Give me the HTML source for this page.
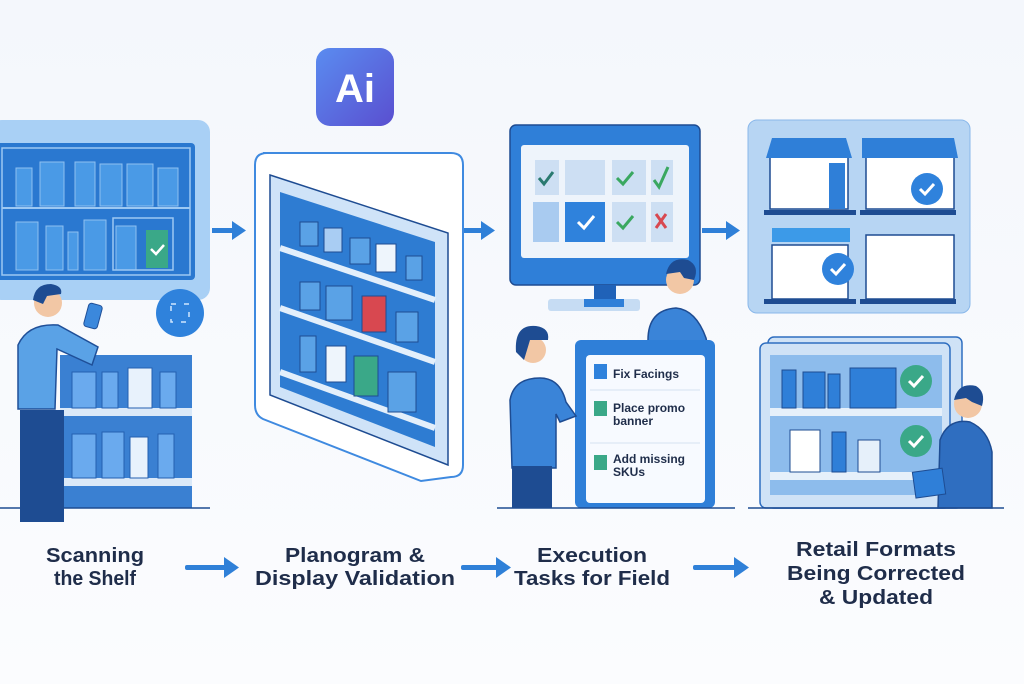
<!DOCTYPE html>
<html><head><meta charset="utf-8"><style>
html,body{margin:0;padding:0;background:#f7f9fd;}
svg{display:block;}
text{font-family:"Liberation Sans",sans-serif;font-weight:bold;}
</style></head><body>
<svg width="1024" height="684" viewBox="0 0 1024 684" xmlns="http://www.w3.org/2000/svg">
<defs>
<linearGradient id="ai" x1="0" y1="0" x2="1" y2="1"><stop offset="0" stop-color="#5a8cf0"/><stop offset="1" stop-color="#5a4fd0"/></linearGradient>
<linearGradient id="bg" x1="0" y1="0" x2="0" y2="1"><stop offset="0" stop-color="#f4f7fc"/><stop offset="1" stop-color="#fbfcfe"/></linearGradient>
</defs>
<rect width="1024" height="684" fill="url(#bg)"/>

<!-- AI icon -->
<rect x="316" y="48" width="78" height="78" rx="14" fill="url(#ai)"/>
<text x="355" y="102" font-size="40" fill="#fff" text-anchor="middle" font-weight="normal">Ai</text>

<!-- Panel 1 -->
<rect x="-10" y="120" width="220" height="180" rx="12" fill="#a9d0f5"/>
<rect x="-4" y="143" width="199" height="137" rx="4" fill="#2a78d0"/>
<rect x="2" y="148" width="188" height="127" fill="none" stroke="#9cc8f3" stroke-width="1.5"/>
<line x1="2" y1="208" x2="190" y2="208" stroke="#9cc8f3" stroke-width="2"/>
<g fill="#4a9ae6" stroke="#8fc0f0" stroke-width="1">
<rect x="16" y="168" width="16" height="38"/><rect x="40" y="162" width="24" height="44"/><rect x="75" y="162" width="20" height="44"/><rect x="100" y="164" width="22" height="42"/><rect x="127" y="164" width="26" height="42"/><rect x="158" y="168" width="20" height="38"/>
<rect x="16" y="222" width="22" height="48"/><rect x="46" y="226" width="17" height="44"/><rect x="68" y="232" width="10" height="38"/><rect x="84" y="220" width="22" height="50"/><rect x="116" y="226" width="20" height="44"/>
</g>
<rect x="113" y="218" width="60" height="52" fill="none" stroke="#9cc8f3" stroke-width="1.5"/>
<rect x="146" y="230" width="22" height="38" fill="#3aa888"/>
<path d="M151 249 l5 5 l8 -9" stroke="#fff" stroke-width="2.5" fill="none"/>
<circle cx="180" cy="313" r="24" fill="#2f82dc"/>
<rect x="171" y="304" width="18" height="18" fill="none" stroke="#cfe6ff" stroke-width="1.5" stroke-dasharray="5 8"/>

<!-- lower shelf 1 -->
<rect x="60" y="355" width="132" height="153" fill="#3a80d2"/>
<rect x="60" y="408" width="132" height="8" fill="#dbe9f8"/>
<rect x="60" y="478" width="132" height="8" fill="#dbe9f8"/>
<g fill="#6aaaee" stroke="#2460b0" stroke-width="1">
<rect x="72" y="372" width="24" height="36"/><rect x="102" y="372" width="16" height="36"/><rect x="128" y="368" width="24" height="40" fill="#e8f2fc"/><rect x="160" y="372" width="16" height="36"/>
<rect x="72" y="434" width="24" height="44"/><rect x="102" y="432" width="22" height="46"/><rect x="130" y="437" width="18" height="41" fill="#e8f2fc"/><rect x="158" y="434" width="16" height="44"/>
</g>
<!-- person 1 -->
<path d="M18 345 q10 -22 40 -20 l40 22 l-6 18 l-35 -16 l-2 60 l-37 0z" fill="#5aa2e6" stroke="#1f4f98" stroke-width="1.5"/>
<rect x="20" y="410" width="44" height="112" fill="#1e4c92"/>
<circle cx="48" cy="303" r="14" fill="#f2c7a5"/>
<path d="M33 300 q2 -16 18 -16 q12 2 10 10 l-14 2 l-4 8z" fill="#1e4c92"/>
<rect x="86" y="304" width="14" height="24" rx="3" fill="#3b88dc" stroke="#1f4f98" transform="rotate(15 93 316)"/>

<!-- arrows top -->
<g fill="#2f80d8">
<rect x="212" y="228" width="22" height="5"/><path d="M232 221 l14 9.5 l-14 9.5z"/>
<rect x="463" y="228" width="20" height="5"/><path d="M481 221 l14 9.5 l-14 9.5z"/>
<rect x="702" y="228" width="26" height="5"/><path d="M726 221 l14 9.5 l-14 9.5z"/>
</g>

<!-- Panel 2 -->
<path d="M263 153 h188 q12 0 12 12 v300 q0 12 -12 12 l-30 4 l-158 -62 q-8 -4 -8 -14 v-240 q0 -12 12 -12z" fill="#ffffff" stroke="#3f8ae0" stroke-width="2"/>
<path d="M270 175 l178 58 v232 l-178 -70z" fill="#cfe3f8" stroke="#1e4c92" stroke-width="1.5"/>
<path d="M280 192 l155 50 v205 l-155 -60z" fill="#2e7cd2"/>
<g stroke="#e3effb" stroke-width="6">
<line x1="280" y1="248" x2="435" y2="300"/><line x1="280" y1="308" x2="435" y2="362"/><line x1="280" y1="372" x2="435" y2="428"/>
</g>
<g fill="#5aa2e6" stroke="#1e4c92" stroke-width="1">
<rect x="300" y="222" width="18" height="24"/><rect x="324" y="228" width="18" height="24" fill="#a9cdf3"/><rect x="350" y="238" width="20" height="26"/><rect x="376" y="244" width="20" height="28" fill="#eef5fc"/><rect x="406" y="256" width="16" height="24"/>
<rect x="300" y="282" width="20" height="28"/><rect x="326" y="286" width="26" height="34"/><rect x="362" y="296" width="24" height="36" fill="#d84850"/><rect x="396" y="312" width="22" height="30"/>
<rect x="300" y="336" width="16" height="36"/><rect x="326" y="346" width="20" height="36" fill="#eef5fc"/><rect x="354" y="356" width="24" height="40" fill="#3aa888"/><rect x="388" y="372" width="28" height="40"/>
</g>

<!-- Monitor -->
<rect x="510" y="125" width="190" height="160" rx="6" fill="#2f7fd8" stroke="#1e4c92" stroke-width="1.5"/>
<rect x="521" y="145" width="168" height="113" rx="3" fill="#eef4fb"/>
<g fill="#cddff3">
<rect x="535" y="160" width="24" height="35"/><rect x="565" y="160" width="40" height="35"/><rect x="612" y="160" width="34" height="35"/><rect x="651" y="160" width="22" height="35"/>
<rect x="533" y="202" width="26" height="40" fill="#a9cbf0"/><rect x="565" y="202" width="40" height="40" fill="#2f82dc"/><rect x="612" y="202" width="34" height="40"/><rect x="651" y="202" width="22" height="40"/>
</g>
<g fill="none" stroke-width="3">
<path d="M539 178 l5 6 l9 -12" stroke="#2a7a70"/><path d="M617 178 l6 6 l10 -12" stroke="#3aa860"/><path d="M654 180 l5 7 l9 -20" stroke="#3aa860"/>
<path d="M578 222 l6 6 l10 -12" stroke="#fff"/><path d="M617 222 l6 6 l10 -12" stroke="#3aa860"/><path d="M656 214 l10 14 M666 214 l-10 14" stroke="#d84850"/>
</g>
<rect x="594" y="285" width="22" height="14" fill="#2062b8"/>
<rect x="548" y="299" width="92" height="12" rx="3" fill="#c6dcf3"/><rect x="584" y="299" width="40" height="8" fill="#2f7fd8"/>
<!-- man at monitor -->
<path d="M648 340 q0 -30 28 -32 q20 2 30 30 l6 30 h-64z" fill="#3a84d8" stroke="#1e4c92" stroke-width="1.5"/>
<circle cx="680" cy="280" r="14" fill="#f2c7a5"/>
<path d="M666 274 q4 -18 22 -14 q12 6 6 20 l-10 -2 l-4 -6z" fill="#1e4c92"/>
<!-- checklist board -->
<rect x="575" y="340" width="140" height="168" rx="6" fill="#2f7fd8"/>
<rect x="586" y="355" width="119" height="148" rx="4" fill="#f7faff"/>
<line x1="590" y1="390" x2="700" y2="390" stroke="#d5e2f0"/><line x1="590" y1="443" x2="700" y2="443" stroke="#d5e2f0"/>
<rect x="594" y="364" width="13" height="15" fill="#2f82dc"/><rect x="594" y="401" width="13" height="15" fill="#3aa888"/><rect x="594" y="455" width="13" height="15" fill="#3aa888"/>
<g fill="#1f2d4a" font-size="12">
<text x="613" y="378">Fix Facings</text>
<text x="613" y="412">Place promo</text><text x="613" y="425">banner</text>
<text x="613" y="463">Add missing</text><text x="613" y="476">SKUs</text>
</g>
<!-- woman -->
<path d="M510 400 q4 -22 30 -22 q20 0 26 24 l10 14 l-16 6 l-4 -8 v54 h-44z" fill="#3a84d8" stroke="#1e4c92" stroke-width="1.5"/>
<rect x="512" y="466" width="40" height="42" fill="#1e4c92"/>
<circle cx="533" cy="350" r="13" fill="#f2c7a5"/>
<path d="M516 352 q-2 -28 20 -26 q14 2 12 14 l-18 0 l-6 20z" fill="#1e4c92"/>

<!-- Panel 4 top -->
<rect x="748" y="120" width="222" height="193" rx="9" fill="#b7d5f3" stroke="#8ab8ea"/>
<g fill="#fff" stroke="#1e4c92" stroke-width="1.5">
<rect x="770" y="155" width="78" height="54"/><rect x="866" y="155" width="88" height="54"/>
<rect x="772" y="245" width="76" height="54"/><rect x="866" y="235" width="88" height="64"/>
</g>
<g fill="#2f7fd8">
<path d="M766 158 l6 -20 h74 l6 20z"/><path d="M862 158 v-20 h92 l4 20z"/>
<rect x="772" y="228" width="78" height="14" fill="#3c9ae8"/>
<rect x="829" y="163" width="16" height="46"/>
</g>
<g fill="#1e4c92"><rect x="764" y="210" width="92" height="5"/><rect x="860" y="210" width="96" height="5"/><rect x="764" y="299" width="92" height="5"/><rect x="860" y="299" width="96" height="5"/></g>
<g fill="#2f82dc"><circle cx="927" cy="189" r="16"/><circle cx="838" cy="269" r="16"/></g>
<g fill="none" stroke="#fff" stroke-width="3"><path d="M920 189 l5 5 l9 -10"/><path d="M831 269 l5 5 l9 -10"/></g>

<!-- Panel 4 bottom -->
<rect x="768" y="337" width="194" height="171" rx="6" fill="#cfe2f6" stroke="#2f6ec0" stroke-width="1.5"/>
<rect x="760" y="343" width="190" height="165" rx="6" fill="#cfe2f6" stroke="#2f6ec0" stroke-width="1.5"/>
<rect x="770" y="355" width="172" height="140" fill="#8dbcec"/>
<rect x="770" y="408" width="172" height="8" fill="#e6f0fa"/><rect x="770" y="472" width="172" height="8" fill="#e6f0fa"/>
<g fill="#2f7fd8" stroke="#1e4c92"><rect x="782" y="370" width="14" height="38"/><rect x="803" y="372" width="22" height="36"/><rect x="828" y="374" width="12" height="34"/><rect x="850" y="368" width="46" height="40"/>
<rect x="790" y="430" width="30" height="42" fill="#fff"/><rect x="832" y="432" width="14" height="40"/><rect x="858" y="440" width="22" height="32" fill="#e6f0fa"/></g>
<g fill="#3aa888"><circle cx="916" cy="381" r="16"/><circle cx="916" cy="441" r="16"/></g>
<g fill="none" stroke="#fff" stroke-width="3"><path d="M909 381 l5 5 l9 -10"/><path d="M909 441 l5 5 l9 -10"/></g>
<!-- man 4 -->
<path d="M940 440 q8 -22 30 -18 q18 8 22 30 v56 h-54z" fill="#2f6ec0" stroke="#1e4c92" stroke-width="1.5"/>
<circle cx="968" cy="404" r="14" fill="#f2c7a5"/>
<path d="M954 400 q4 -18 22 -14 q10 6 6 20 l-10 -4 l-6 -4z" fill="#1e4c92"/>
<rect x="914" y="470" width="30" height="26" fill="#2f7fd8" stroke="#1e4c92" transform="rotate(-8 930 483)"/>

<!-- ground lines -->
<g stroke="#1e4c92" stroke-width="1.5"><line x1="0" y1="508" x2="210" y2="508"/><line x1="497" y1="508" x2="735" y2="508"/><line x1="748" y1="508" x2="1004" y2="508"/></g>

<!-- labels -->
<g fill="#1f2d4a" font-size="20" text-anchor="middle">
<text x="95" y="562" textLength="98" lengthAdjust="spacingAndGlyphs">Scanning</text>
<text x="95" y="585" textLength="82" lengthAdjust="spacingAndGlyphs">the Shelf</text>
<text x="355" y="562" textLength="140" lengthAdjust="spacingAndGlyphs">Planogram &amp;</text>
<text x="355" y="585" textLength="200" lengthAdjust="spacingAndGlyphs">Display Validation</text>
<text x="592" y="562" textLength="110" lengthAdjust="spacingAndGlyphs">Execution</text>
<text x="592" y="585" textLength="156" lengthAdjust="spacingAndGlyphs">Tasks for Field</text>
<text x="876" y="556" textLength="160" lengthAdjust="spacingAndGlyphs">Retail Formats</text>
<text x="876" y="580" textLength="178" lengthAdjust="spacingAndGlyphs">Being Corrected</text>
<text x="876" y="604" textLength="114" lengthAdjust="spacingAndGlyphs">&amp; Updated</text>
</g>
<g fill="#2f80d8">
<rect x="185" y="565" width="42" height="5" rx="2"/><path d="M224 557 l15 10.5 l-15 10.5z"/>
<rect x="461" y="565" width="38" height="5" rx="2"/><path d="M496 557 l15 10.5 l-15 10.5z"/>
<rect x="693" y="565" width="44" height="5" rx="2"/><path d="M734 557 l15 10.5 l-15 10.5z"/>
</g>
</svg>
</body></html>
